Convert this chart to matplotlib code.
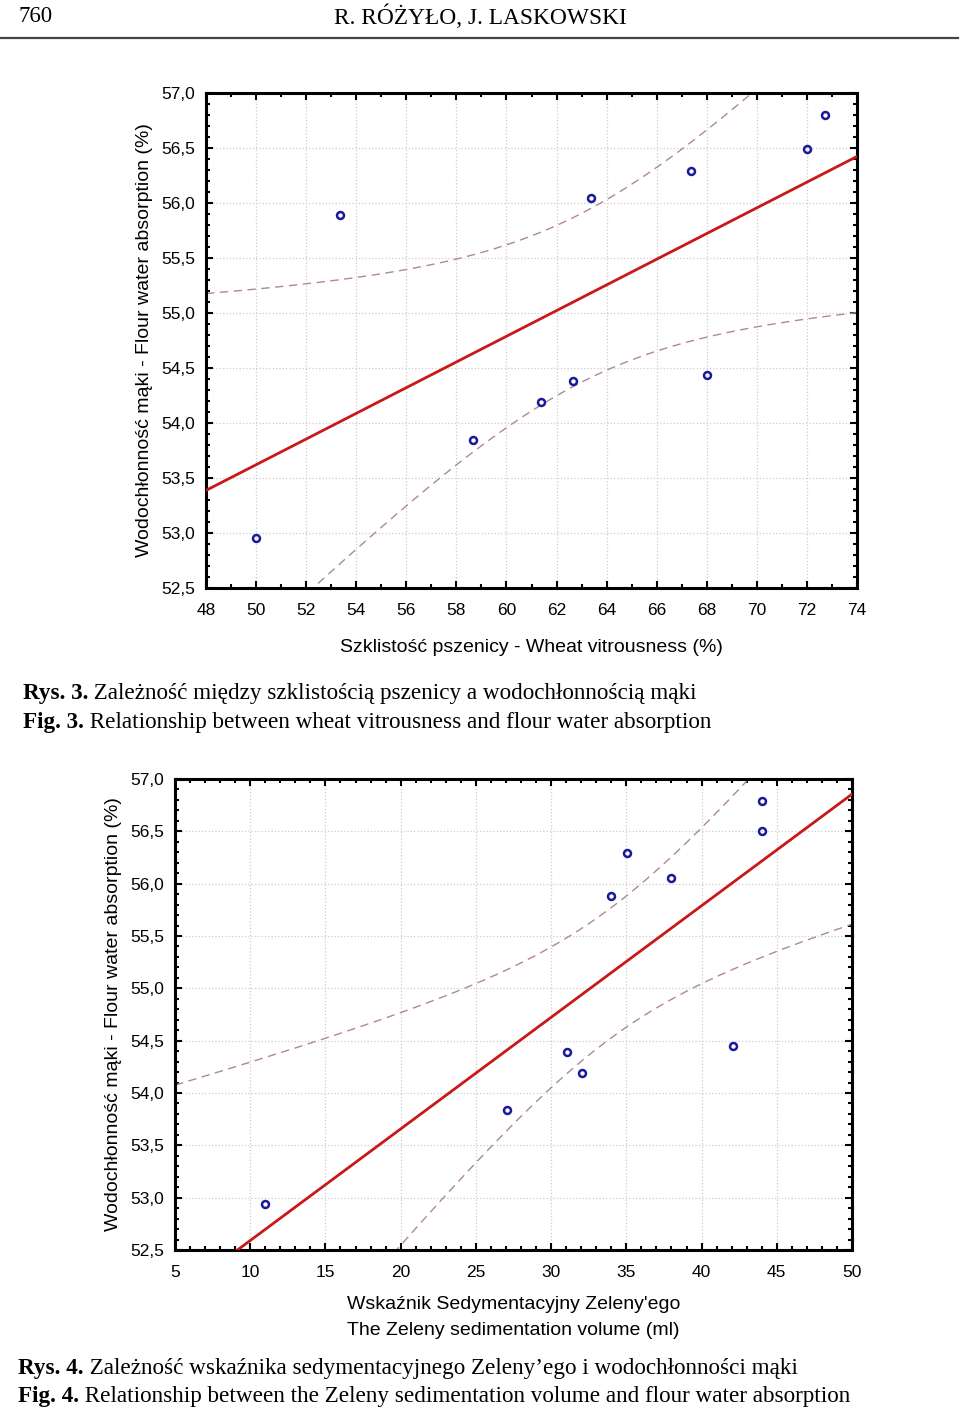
import numpy as np
import matplotlib
matplotlib.use("Agg")
import matplotlib.pyplot as plt
from matplotlib.ticker import MultipleLocator, FuncFormatter

# water absorption (%) - same 10 samples in both figures
absorption = [52.95, 55.89, 53.85, 54.19, 54.38, 56.05, 56.29, 54.44, 56.49, 56.80]
vitrousness = [50.0, 53.35, 58.66, 61.38, 62.66, 63.38, 67.37, 68.0, 72.0, 72.72]
absorption2 = [52.94, 53.84, 54.39, 54.19, 55.88, 56.29, 56.05, 54.45, 56.50, 56.79]
zeleny = [11.0, 27.07, 31.06, 32.06, 33.99, 35.05, 37.98, 42.1, 44.03, 44.03]

T975 = 2.306  # t(0.975, df=8)
SANS = ["Liberation Sans Narrow", "Liberation Sans", "DejaVu Sans"]
SERIF = ["Liberation Serif", "DejaVu Serif"]

fig = plt.figure(figsize=(9.6, 14.1), dpi=100)

def comma(v, pos):
    return ("%.1f" % v).replace(".", ",")

def scatter_fit(ax, x, y, xlim, xmaj, ylabel):
    x = np.array(x); y = np.array(y)
    b, a = np.polyfit(x, y, 1)
    n = len(x)
    s = np.sqrt(np.sum((y - (a + b * x)) ** 2) / (n - 2))
    sxx = np.sum((x - x.mean()) ** 2)
    xx = np.linspace(xlim[0], xlim[1], 300)
    yy = a + b * xx
    ci = T975 * s * np.sqrt(1.0 / n + (xx - x.mean()) ** 2 / sxx)
    ax.plot(xx, yy, color="#c81818", lw=2.0, zorder=3)
    ax.plot(xx, yy + ci, color="#b08890", lw=1.0, dashes=(6, 4), zorder=2)
    ax.plot(xx, yy - ci, color="#b08890", lw=1.0, dashes=(6, 4), zorder=2)
    ax.plot(x, y, "o", mfc="none", mec="#1a1a99", mew=1.8, ms=5, zorder=4)
    ax.set_xlim(xlim)
    ax.set_ylim(52.5, 57.0)
    ax.xaxis.set_major_locator(MultipleLocator(xmaj))
    ax.xaxis.set_minor_locator(MultipleLocator(1))
    ax.yaxis.set_major_locator(MultipleLocator(0.5))
    ax.yaxis.set_minor_locator(MultipleLocator(0.1))
    ax.yaxis.set_major_formatter(FuncFormatter(comma))
    ax.tick_params(which="both", direction="in", top=True, right=True, width=1.5)
    ax.tick_params(which="major", length=5, labelsize=12.5, pad=8)
    ax.tick_params(axis="x", which="major", pad=11)
    ax.tick_params(which="minor", length=3)
    for lab in ax.get_xticklabels() + ax.get_yticklabels():
        lab.set_family(SANS)
    for sp in ax.spines.values():
        sp.set_linewidth(2.2)
    ax.grid(True, which="major", color="#cccccc", ls=":", lw=0.9)
    ax.set_ylabel(ylabel, family=SANS, fontsize=14, labelpad=6)

ylab = "Wodochłonność mąki - Flour water absorption (%)"

ax1 = fig.add_axes([206 / 960, 1 - 588 / 1410, 651 / 960, 495 / 1410])
scatter_fit(ax1, vitrousness, absorption, (48, 74), 2, ylab)
ax1.set_xlabel("Szklistość pszenicy - Wheat vitrousness (%)", family=SANS, fontsize=14, labelpad=15)

ax2 = fig.add_axes([175 / 960, 1 - 1250 / 1410, 677 / 960, 471 / 1410])
scatter_fit(ax2, zeleny, absorption2, (5, 50), 5, ylab)
ax2.set_xlabel("Wskaźnik Sedymentacyjny Zeleny'ego\nThe Zeleny sedimentation volume (ml)",
               family=SANS, fontsize=14, labelpad=11, linespacing=1.7)

# page header
fig.text(18 / 960, 1 - 17 / 1410, "760", family=SERIF, fontsize=16.5, va="center")
fig.text(480 / 960, 1 - 17 / 1410, "R. RÓŻYŁO, J. LASKOWSKI", family=SERIF, fontsize=16.8,
         va="center", ha="center")
fig.add_artist(plt.Line2D([0, 958 / 960], [1 - 38 / 1410] * 2, color="#444444", lw=1.6))

def caption(x, y, bold, rest):
    t = fig.text(x / 960, 1 - y / 1410, bold, family=SERIF, fontsize=16.7, weight="bold", va="bottom")
    ann = plt.annotate(" " + rest, xy=(1, 0), xycoords=t, va="bottom", ha="left",
                       family=SERIF, fontsize=16.7, annotation_clip=False)
    return ann

caption(23, 704, "Rys. 3.", "Zależność między szklistością pszenicy a wodochłonnością mąki")
caption(23, 733, "Fig. 3.", "Relationship between wheat vitrousness and flour water absorption")
caption(18, 1379, "Rys. 4.", "Zależność wskaźnika sedymentacyjnego Zeleny’ego i wodochłonności mąki")
caption(18, 1407, "Fig. 4.", "Relationship between the Zeleny sedimentation volume and flour water absorption")

fig.savefig("out.png", dpi=100)
